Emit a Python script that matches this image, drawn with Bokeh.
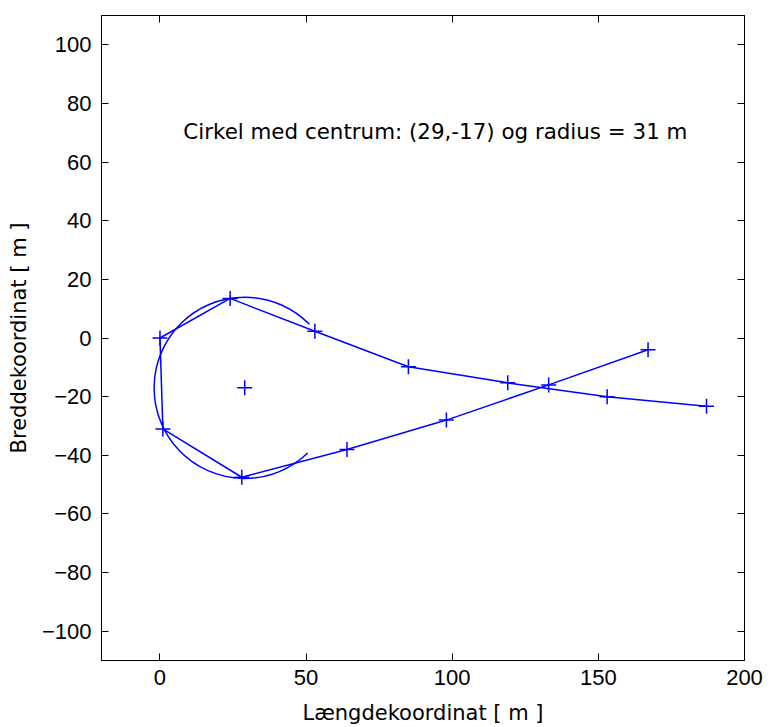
from bokeh.plotting import figure
from bokeh.models import Range1d, LinearAxis, Label, FixedTicker
from bokeh.embed import file_html
from bokeh.resources import INLINE

# --- data ---
path_x = [167, 133, 98, 64, 28, 1, 0, 24, 53, 85, 119, 153, 187]
path_y = [-4, -16, -28, -38, -47.5, -31, 0, 13.5, 2.3, -9.8, -15.3, -20, -23.3]
center_x = [29]
center_y = [-17]
radius = 31
arc_start_deg = 44.5
arc_end_deg = -46
x_ticks = [0, 50, 100, 150, 200]
y_ticks = [-100, -80, -60, -40, -20, 0, 20, 40, 60, 80, 100]
annotation = "Cirkel med centrum: (29,-17) og radius = 31 m"

TICK_FONT = "Liberation Sans"
TEXT_FONT = "DejaVu Sans"
BLUE = "#0000ff"

p = figure(frame_width=643, frame_height=645,
           x_range=Range1d(-20, 200), y_range=Range1d(-110, 110),
           output_backend="svg", toolbar_location=None,
           min_border_left=101, min_border_top=15, min_border_right=24,
           min_border_bottom=50)
p.background_fill_color = "white"
p.border_fill_color = "white"
p.outline_line_color = "black"
p.outline_line_width = 1
p.grid.visible = False

p.line(path_x, path_y, line_color=BLUE, line_width=1.5)
p.scatter(path_x, path_y, marker="cross", size=15, line_color=BLUE, line_width=1.5)
p.scatter(center_x, center_y, marker="cross", size=15, line_color=BLUE, line_width=1.5)
p.arc(x=center_x, y=center_y, radius=radius, start_angle=arc_start_deg,
      end_angle=arc_end_deg, start_angle_units="deg", end_angle_units="deg",
      direction="anticlock", line_color=BLUE, line_width=1.5)

p.add_layout(Label(x=8, y=70.5, text=annotation, text_font=TEXT_FONT,
                   text_font_size="21.4px", text_baseline="middle",
                   text_color="black"))

def style(ax, ticks, show_labels):
    ax.ticker = FixedTicker(ticks=ticks)
    ax.major_tick_in = 7
    ax.major_tick_out = 0
    ax.minor_tick_line_color = None
    ax.axis_line_color = "black"
    ax.major_tick_line_color = "black"
    ax.major_label_text_font = TICK_FONT
    ax.major_label_text_font_size = "22px"
    ax.major_label_text_color = "black"
    ax.axis_label_text_font = TEXT_FONT
    ax.axis_label_text_font_size = "21px"
    ax.axis_label_text_font_style = "normal"
    ax.axis_label_text_color = "black"
    if not show_labels:
        ax.major_label_text_color = None
        ax.major_label_standoff = 0

xa = p.xaxis[0]
ya = p.yaxis[0]
style(xa, x_ticks, True)
style(ya, y_ticks, True)
xa.axis_label = "Længdekoordinat [ m ]"
ya.axis_label = "Breddekoordinat [ m ]"
xa.major_label_standoff = 9
ya.major_label_standoff = 10
xa.axis_label_standoff = 13
ya.axis_label_standoff = 8

top = LinearAxis()
right = LinearAxis()
style(top, x_ticks, False)
style(right, y_ticks, False)
p.add_layout(top, "above")
p.add_layout(right, "right")

open("out.html", "w").write(file_html(p, INLINE))
